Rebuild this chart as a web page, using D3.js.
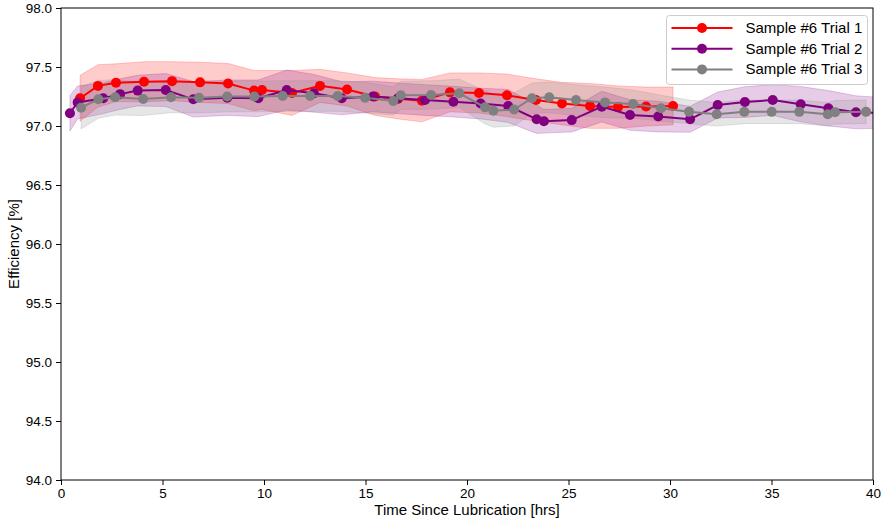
<!DOCTYPE html>
<html lang="en">
<head>
<meta charset="utf-8">
<title>Efficiency vs time since lubrication</title>
<script src="https://d3js.org/d3.v7.min.js"></script>
<style>
  body { margin: 0; background: #fff; }
  svg text { font-family: "Liberation Sans", Arial, sans-serif; fill: #000; }
</style>
</head>
<body>
<script>
// trial 1 (red)
var hours1 = [0.94, 1.82, 2.71, 4.09, 5.47, 6.85, 8.23, 9.51, 9.90, 11.38, 12.76, 14.09, 15.47, 16.60, 17.78, 19.16, 20.59, 21.97, 23.40, 24.68, 26.06, 27.44, 28.82, 30.15];
var eff1   = [97.235, 97.34, 97.367, 97.375, 97.38, 97.37, 97.36, 97.30, 97.305, 97.28, 97.34, 97.31, 97.25, 97.23, 97.215, 97.285, 97.28, 97.26, 97.22, 97.19, 97.17, 97.16, 97.165, 97.17];
var std1   = [0.195, 0.18, 0.16, 0.17, 0.165, 0.17, 0.17, 0.17, 0.165, 0.19, 0.14, 0.14, 0.16, 0.17, 0.18, 0.165, 0.17, 0.18, 0.18, 0.18, 0.19, 0.18, 0.165, 0.16];

// trial 2 (purple)
var hours2 = [0.44, 0.82, 2.08, 2.91, 3.78, 5.16, 6.52, 8.19, 9.72, 11.12, 12.46, 13.83, 15.37, 16.60, 17.93, 19.33, 20.67, 22.03, 23.43, 23.79, 25.16, 26.64, 28.03, 29.42, 30.99, 32.35, 33.69, 35.06, 36.44, 37.80, 39.16, 40.54];
var eff2   = [97.108, 97.20, 97.235, 97.27, 97.30, 97.305, 97.226, 97.24, 97.235, 97.305, 97.277, 97.235, 97.25, 97.235, 97.22, 97.206, 97.19, 97.17, 97.057, 97.04, 97.05, 97.164, 97.093, 97.08, 97.057, 97.178, 97.203, 97.22, 97.185, 97.15, 97.116, 97.11];
var std2   = [0.15, 0.14, 0.13, 0.13, 0.13, 0.14, 0.15, 0.15, 0.155, 0.17, 0.16, 0.14, 0.13, 0.13, 0.13, 0.13, 0.13, 0.14, 0.12, 0.10, 0.10, 0.13, 0.13, 0.13, 0.11, 0.11, 0.13, 0.13, 0.15, 0.15, 0.14, 0.13];

// trial 3 (grey)
var hours3 = [0.99, 1.84, 2.67, 4.05, 5.42, 6.80, 8.19, 9.52, 10.92, 12.27, 13.63, 14.98, 16.37, 16.74, 18.23, 19.62, 20.89, 21.30, 22.32, 23.20, 24.05, 25.37, 26.80, 28.18, 29.56, 30.94, 32.30, 33.66, 35.01, 36.37, 37.77, 38.13, 39.66];
var eff3   = [97.155, 97.226, 97.243, 97.229, 97.243, 97.24, 97.25, 97.25, 97.254, 97.254, 97.254, 97.24, 97.212, 97.26, 97.263, 97.277, 97.158, 97.13, 97.14, 97.235, 97.243, 97.22, 97.20, 97.186, 97.15, 97.12, 97.099, 97.12, 97.12, 97.12, 97.10, 97.116, 97.12];
var std3   = [0.18, 0.16, 0.15, 0.14, 0.13, 0.13, 0.13, 0.13, 0.13, 0.13, 0.13, 0.13, 0.12, 0.12, 0.12, 0.12, 0.14, 0.14, 0.14, 0.13, 0.13, 0.13, 0.13, 0.12, 0.11, 0.10, 0.10, 0.10, 0.10, 0.10, 0.10, 0.10, 0.10];

var names  = ["Sample #6 Trial 1", "Sample #6 Trial 2", "Sample #6 Trial 3"];
var colors = ["#ff0000", "#800080", "#808080"];
var xTicks = [0, 5, 10, 15, 20, 25, 30, 35, 40];
var yTicks = [94.0, 94.5, 95.0, 95.5, 96.0, 96.5, 97.0, 97.5, 98.0];

var W = 886, H = 523;
var pLeft = 61, pRight = 873, pTop = 8, pBottom = 480;

var svg = d3.select("body").append("svg")
  .attr("width", W).attr("height", H);

var x = d3.scaleLinear().domain([0, 40]).range([pLeft, pRight]);
var y = d3.scaleLinear().domain([94, 98]).range([pBottom, pTop]);

svg.append("clipPath").attr("id", "plotclip")
  .append("rect").attr("x", pLeft).attr("y", pTop)
  .attr("width", pRight - pLeft).attr("height", pBottom - pTop);

// build point tables from the arrays
var series = [[hours1, eff1, std1], [hours2, eff2, std2], [hours3, eff3, std3]].map(function(s, k) {
  return {
    name: names[k], color: colors[k],
    pts: s[0].map(function(h, i) { return { h: h, v: s[1][i], sd: s[2][i] }; })
  };
});

var plot = svg.append("g").attr("clip-path", "url(#plotclip)");

var band = d3.area()
  .x(function(d) { return x(d.h); })
  .y0(function(d) { return y(d.v - d.sd); })
  .y1(function(d) { return y(d.v + d.sd); });

var line = d3.line()
  .x(function(d) { return x(d.h); })
  .y(function(d) { return y(d.v); });

// shaded bands first
plot.selectAll("path.band").data(series).enter()
  .append("path").attr("class", "band")
  .attr("d", function(s) { return band(s.pts); })
  .attr("fill", function(s) { return s.color; })
  .attr("fill-opacity", 0.2)
  .attr("stroke", function(s) { return s.color; })
  .attr("stroke-opacity", 0.2)
  .attr("stroke-width", 1);

// lines + markers
series.forEach(function(s) {
  plot.append("path")
    .attr("d", line(s.pts))
    .attr("fill", "none")
    .attr("stroke", s.color)
    .attr("stroke-width", 2);
  plot.selectAll(null).data(s.pts).enter()
    .append("circle")
    .attr("cx", function(d) { return x(d.h); })
    .attr("cy", function(d) { return y(d.v); })
    .attr("r", 5)
    .attr("fill", s.color);
});

// axes
var xAxis = svg.append("g").attr("transform", "translate(0," + pBottom + ")")
  .call(d3.axisBottom(x).tickValues(xTicks).tickSize(5).tickPadding(3).tickFormat(d3.format("d")));
var yAxis = svg.append("g").attr("transform", "translate(" + pLeft + ",0)")
  .call(d3.axisLeft(y).tickValues(yTicks).tickSize(5).tickPadding(4).tickFormat(d3.format(".1f")));
[xAxis, yAxis].forEach(function(a) {
  a.select(".domain").remove();
  a.selectAll("line").attr("stroke", "#000");
  a.selectAll("text").style("font-size", "13.5px");
});

// frame
svg.append("rect")
  .attr("x", pLeft).attr("y", pTop)
  .attr("width", pRight - pLeft).attr("height", pBottom - pTop)
  .attr("fill", "none").attr("stroke", "#000").attr("stroke-width", 1);

// axis titles
svg.append("text")
  .attr("x", (pLeft + pRight) / 2).attr("y", 515)
  .attr("text-anchor", "middle").style("font-size", "15px")
  .text("Time Since Lubrication [hrs]");
svg.append("text")
  .attr("transform", "translate(19," + ((pTop + pBottom) / 2) + ") rotate(-90)")
  .attr("text-anchor", "middle").style("font-size", "15px")
  .text("Efficiency [%]");

// legend
var lg = svg.append("g").attr("transform", "translate(666.5,15.5)");
lg.append("rect")
  .attr("width", 201).attr("height", 69).attr("rx", 3)
  .attr("fill", "#fff").attr("fill-opacity", 0.8)
  .attr("stroke", "#cccccc");
series.forEach(function(s, i) {
  var ry = 12.5 + i * 20.7;
  lg.append("line").attr("x1", 5).attr("x2", 66).attr("y1", ry).attr("y2", ry)
    .attr("stroke", s.color).attr("stroke-width", 2);
  lg.append("circle").attr("cx", 35.5).attr("cy", ry).attr("r", 5).attr("fill", s.color);
  lg.append("text").attr("x", 79).attr("y", ry + 5).style("font-size", "15px").text(s.name);
});
</script>
</body>
</html>
